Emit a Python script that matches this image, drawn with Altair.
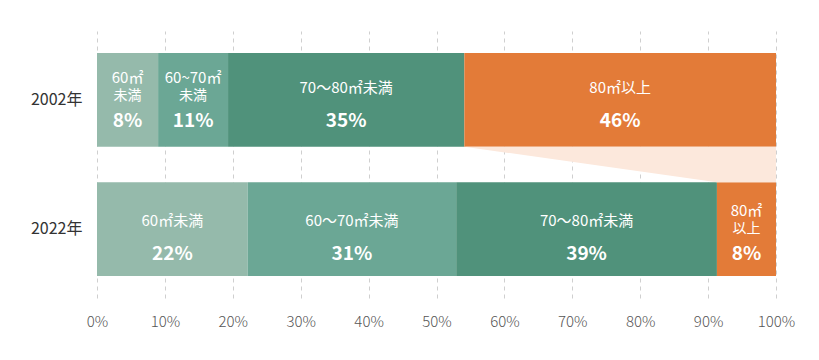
import altair as alt
import pandas as pd

# ---- data ----
years = ["2002年", "2022年"]
categories = ["60㎡未満", "60〜70㎡未満", "70〜80㎡未満", "80㎡以上"]
shares_2002 = [9.0, 10.3, 34.8, 45.9]
shares_2022 = [22.2, 30.7, 38.4, 8.7]
pct_labels_2002 = ["8%", "11%", "35%", "46%"]
pct_labels_2022 = ["22%", "31%", "39%", "8%"]
name_labels_2002 = ["60㎡\n未満", "60~70㎡\n未満", "70〜80㎡未満", "80㎡以上"]
name_labels_2022 = ["60㎡未満", "60〜70㎡未満", "70〜80㎡未満", "80㎡\n以上"]
x_ticks = [0, 10, 20, 30, 40, 50, 60, 70, 80, 90, 100]

colors = ["#95baab", "#6ba795", "#50927b", "#e37b38"]
band_color = "#fce8dc"

PAD_INNER = 0.275
PAD_OUTER = 0.17
FONT = "Noto Sans CJK JP"

rows = []
for year, shares, pcts, names in [
    (years[0], shares_2002, pct_labels_2002, name_labels_2002),
    (years[1], shares_2022, pct_labels_2022, name_labels_2022),
]:
    start = 0.0
    for i, (cat, s, p, n) in enumerate(zip(categories, shares, pcts, names)):
        parts = n.split("\n")
        rows.append(dict(year=year, category=cat, order=i, x0=start, x1=start + s,
                         mid=start + s / 2, pct=p,
                         single=n if len(parts) == 1 else "",
                         l1=parts[0] if len(parts) > 1 else "",
                         l2=parts[1] if len(parts) > 1 else ""))
        start += s
df = pd.DataFrame(rows)

# connector band between the "80㎡以上" segments (in band-step units of the y scale)
total = 2 - PAD_INNER + 2 * PAD_OUTER
top_row = df[(df.year == years[0]) & (df.category == categories[3])].iloc[0]
bot_row = df[(df.year == years[1]) & (df.category == categories[3])].iloc[0]
band_df = pd.DataFrame([
    dict(yy=PAD_OUTER + (1 - PAD_INNER), xa=top_row.x0, xb=top_row.x1),
    dict(yy=PAD_OUTER + 1, xa=bot_row.x0, xb=bot_row.x1),
])

x_scale = alt.Scale(domain=[0, 100], nice=False, zero=False)
y_scale = alt.Scale(domain=years, paddingInner=PAD_INNER, paddingOuter=PAD_OUTER, round=False)

x_axis = alt.Axis(values=x_ticks, labelExpr="datum.value + '%'", title=None,
                  domain=False, ticks=False, grid=True, gridDash=[4, 4],
                  gridColor="#cfcfcf", gridWidth=1, labelFontSize=15,
                  labelColor="#555555", labelPadding=16, labelFont=FONT,
                  labelFontWeight=300, labelFlush=False, labelOverlap=False)
y_axis = alt.Axis(title=None, domain=False, ticks=False, grid=False,
                  labelFontSize=16, labelColor="#333333", labelPadding=15,
                  labelFont=FONT)

bars = alt.Chart(df).mark_bar(stroke=None).encode(
    x=alt.X("x0:Q", scale=x_scale, axis=x_axis),
    x2="x1:Q",
    y=alt.Y("year:N", scale=y_scale, axis=y_axis, sort=years),
    color=alt.Color("category:N", scale=alt.Scale(domain=categories, range=colors), legend=None),
)

band = alt.Chart(band_df).mark_area(orient="horizontal", color=band_color).encode(
    y=alt.Y("yy:Q", scale=alt.Scale(domain=[0, total], reverse=True, nice=False, zero=False), axis=None),
    x=alt.X("xa:Q", scale=x_scale),
    x2="xb:Q",
)


def text_layer(field, dy, size, weight="normal"):
    return alt.Chart(df).transform_filter(f"datum.{field} != ''").mark_text(
        color="white", fontSize=size, fontWeight=weight, dy=dy,
        baseline="middle", font=FONT).encode(
        x=alt.X("mid:Q", scale=x_scale),
        y=alt.Y("year:N", scale=y_scale, sort=years, axis=None),
        text=f"{field}:N",
    )


names_single = text_layer("single", -10, 15)
names_l1 = text_layer("l1", -20, 15)
names_l2 = text_layer("l2", -2, 14)
pcts = text_layer("pct", 23, 19, "bold")

chart = alt.layer(bars, band, names_single, names_l1, names_l2, pcts).resolve_scale(
    y="independent"
).properties(
    width=679, height=267,
    autosize=alt.AutoSizeParams(type="none"),
    padding={"left": 89, "top": 23, "right": 35, "bottom": 40},
).configure(
    font=FONT, background="white",
    view=alt.ViewConfig(stroke="transparent", strokeWidth=0),
)

chart.save("out.html", embed_options={"renderer": "svg", "actions": False})
